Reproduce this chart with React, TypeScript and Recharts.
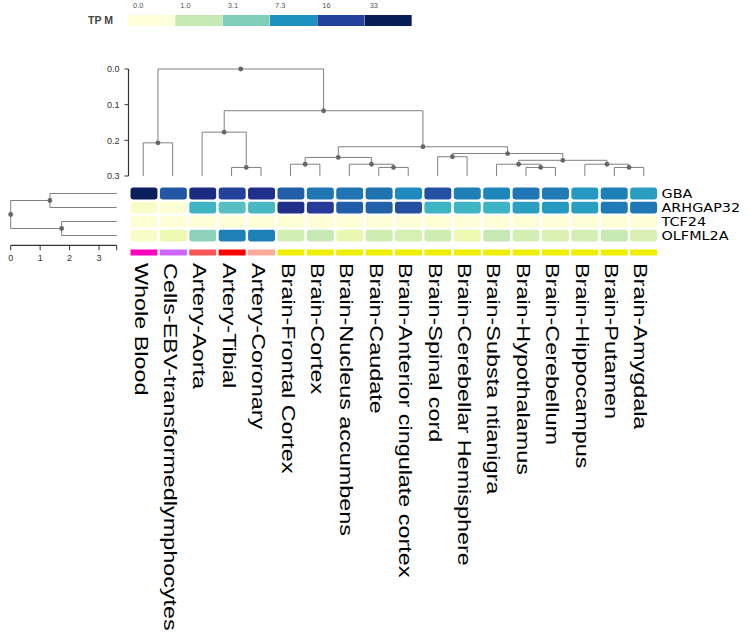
import React from 'react';
import { BarChart, Bar, XAxis, YAxis, Cell, ScatterChart, Scatter } from 'recharts';

// ---- data ----
const TISSUES = [
  'Whole Blood',
  'Cells-EBV-transformedlymphocytes',
  'Artery-Aorta',
  'Artery-Tibial',
  'Artery-Coronary',
  'Brain-Frontal Cortex',
  'Brain-Cortex',
  'Brain-Nucleus accumbens',
  'Brain-Caudate',
  'Brain-Anterior cingulate cortex',
  'Brain-Spinal cord',
  'Brain-Cerebellar Hemisphere',
  'Brain-Substa ntianigra',
  'Brain-Hypothalamus',
  'Brain-Cerebellum',
  'Brain-Hippocampus',
  'Brain-Putamen',
  'Brain-Amygdala',
];

const TISSUE_COLORS = [
  '#ff00bb', '#cc66ff', '#ff5555', '#ff0000', '#ffaa99',
  '#eeee00', '#eeee00', '#eeee00', '#eeee00', '#eeee00', '#eeee00', '#eeee00',
  '#eeee00', '#eeee00', '#eeee00', '#eeee00', '#eeee00', '#eeee00',
];

const GENES = ['GBA', 'ARHGAP32', 'TCF24', 'OLFML2A'];

const GBA_TPM = [32, 13, 23, 16, 20.5, 12, 9.9, 10, 10.2, 7.9, 14, 9, 8.3, 9.8, 9.4, 6.8, 9, 6.5];
const ARHGAP32_TPM = [0.2, 0.05, 5.1, 4.3, 4.8, 21, 17, 12, 11.8, 14, 5.1, 5.1, 5.2, 6.4, 6.8, 6.5, 9.5, 9.6];
const TCF24_TPM = [0.06, 0.04, 0.05, 0.05, 0.05, 0.06, 0.05, 0.05, 0.05, 0.05, 0.06, 0.05, 0.05, 0.05, 0.05, 0.05, 0.05, 0.05];
const OLFML2A_TPM = [0.2, 0.5, 2.7, 9, 9, 0.85, 1.0, 0.55, 0.9, 0.8, 0.9, 0.5, 1.05, 0.85, 0.75, 0.82, 1.0, 0.78];

const LEGEND_VALUES = [0, 1, 3.1, 7.3, 16, 33];
const LEGEND_LABELS = ['0.0', '1.0', '3.1', '7.3', '16', '33'];

// column dendrogram, hclust style: negative = leaf (1-based), positive = earlier merge
const COL_MERGES: [number, number, number][] = [
  [-4, -5, 0.276],
  [-3, 1, 0.177],
  [-1, -2, 0.207],
  [-6, -7, 0.267],
  [-9, -10, 0.276],
  [-8, 5, 0.267],
  [4, 6, 0.248],
  [-11, -12, 0.246],
  [-14, -15, 0.276],
  [-13, 9, 0.267],
  [-17, -18, 0.276],
  [-16, 11, 0.267],
  [10, 12, 0.256],
  [8, 13, 0.237],
  [7, 14, 0.218],
  [2, 15, 0.117],
  [3, 16, 0.0],
];
const COL_TICKS = [0, 0.1, 0.2, 0.3];

const ROW_MERGES: [number, number, number][] = [
  [-1, -2, 1.33],
  [-3, -4, 1.73],
  [1, 2, 0],
];
const ROW_TICKS = [0, 1, 2, 3, 3.6];

// ---- helpers ----
const SCALE_VALUES = [0, 0.5, 1, 3.1, 5, 7.3, 12, 18, 33];
const SCALE_COLORS = ['#ffffd9', '#edf8b1', '#c7e9b4', '#7fcdbb', '#41b6c4', '#1d91c0', '#225ea8', '#253494', '#081d58'];

function hex(c: string) {
  return [1, 3, 5].map((i) => parseInt(c.slice(i, i + 2), 16));
}

function colorFor(v: number) {
  if (v <= SCALE_VALUES[0]) return SCALE_COLORS[0];
  for (let i = 1; i < SCALE_VALUES.length; i++) {
    if (v <= SCALE_VALUES[i]) {
      const t = (v - SCALE_VALUES[i - 1]) / (SCALE_VALUES[i] - SCALE_VALUES[i - 1]);
      const a = hex(SCALE_COLORS[i - 1]);
      const b = hex(SCALE_COLORS[i]);
      const m = a.map((x, k) => Math.round(x + (b[k] - x) * t));
      return `rgb(${m[0]},${m[1]},${m[2]})`;
    }
  }
  return SCALE_COLORS[SCALE_COLORS.length - 1];
}

function layoutDendrogram(merges: [number, number, number][], leafHeight: number) {
  const nodes: { pos: number; h: number }[] = [];
  const links: { pos: number; h: number }[][] = [];
  const at = (id: number) => (id < 0 ? { pos: -id - 0.5, h: leafHeight } : nodes[id - 1]);
  merges.forEach(([a, b, h]) => {
    const A = at(a);
    const B = at(b);
    links.push([{ pos: A.pos, h: A.h }, { pos: A.pos, h }, { pos: B.pos, h }, { pos: B.pos, h: B.h }]);
    nodes.push({ pos: (A.pos + B.pos) / 2, h });
  });
  return { nodes, links };
}

const NoDot = () => <g />;
const NodeDot = (props: any) => <circle cx={props.cx} cy={props.cy} r={2.4} fill="#666" />;

const LINK_STYLE = { stroke: '#808080', strokeWidth: 1 };
const AXIS_FONT = 'Liberation Sans, Arial, sans-serif';

// ---- layout ----
const ROW_H = 14;
const GAP_H = 6;
const STRIP_H = 8;
const HEAT_H = ROW_H * 4 + GAP_H + STRIP_H;

const heatRows = TISSUES.map((tissue) => ({
  tissue,
  strip: STRIP_H,
  gap: GAP_H,
  GBA: ROW_H,
  ARHGAP32: ROW_H,
  TCF24: ROW_H,
  OLFML2A: ROW_H,
}));
const GENE_TPM: Record<string, number[]> = {
  GBA: GBA_TPM,
  ARHGAP32: ARHGAP32_TPM,
  TCF24: TCF24_TPM,
  OLFML2A: OLFML2A_TPM,
};
const geneTickValues = GENES.map((_, i) => HEAT_H - ROW_H * (i + 0.5));

const legendRows = LEGEND_LABELS.map((label, i) => ({ label, value: LEGEND_VALUES[i], level: 1 }));

const colTree = layoutDendrogram(COL_MERGES, 0.3);
const rowTree = layoutDendrogram(ROW_MERGES, 3.6);

const TissueTick = (props: any) => {
  const { x, payload } = props;
  return (
    <text
      transform={`translate(${x - 9.5},263) rotate(90) scale(1.3,1)`}
      fontSize={18}
      fontFamily={AXIS_FONT}
      fill="#000"
      textAnchor="start"
    >
      {payload.value}
    </text>
  );
};

const GeneTick = (props: any) => {
  const { y, payload } = props;
  const idx = geneTickValues.indexOf(payload.value);
  return (
    <text
      transform={`translate(661.5,${y + 4.3}) scale(1.2,1)`}
      fontSize={12}
      fontFamily="DejaVu Sans, sans-serif"
      fill="#000"
    >
      {GENES[idx]}
    </text>
  );
};

const LegendTick = (props: any) => {
  const { x, payload } = props;
  return (
    <text x={x - 284 / 12 + 5} y={7.5} fontSize={7.5} fontFamily={AXIS_FONT} fill="#555">
      {payload.value}
    </text>
  );
};

const TpmTick = (props: any) => (
  <text x={113} y={props.y + 3.5} fontSize={10.5} fontWeight="bold" fontFamily={AXIS_FONT} fill="#444" textAnchor="end">
    TP M
  </text>
);

export default function App() {
  return (
    <div style={{ position: 'absolute', left: 0, top: 0, width: 749, height: 641, background: '#fff' }}>
      {/* heatmap + tissue labels */}
      <div style={{ position: 'absolute', left: 0, top: 0 }}>
        <BarChart
          width={749}
          height={641}
          data={heatRows}
          margin={{ top: 186.5, right: 0, bottom: 0, left: 129.5 }}
          barCategoryGap={0}
          barGap={0}
        >
          <XAxis dataKey="tissue" height={384.5} interval={0} tick={<TissueTick />} tickLine={false} axisLine={false} />
          <YAxis
            orientation="right"
            width={90.5}
            domain={[0, HEAT_H]}
            ticks={geneTickValues}
            interval={0}
            tick={<GeneTick />}
            tickLine={false}
            axisLine={false}
          />
          <Bar dataKey="strip" stackId="h" isAnimationActive={false} stroke="#fff" strokeWidth={2}>
            {TISSUE_COLORS.map((c, i) => (
              <Cell key={`s-${i}`} fill={c} />
            ))}
          </Bar>
          <Bar dataKey="gap" stackId="h" isAnimationActive={false} fill="transparent" />
          {[...GENES].reverse().map((g) => (
            <Bar key={g} dataKey={g} stackId="h" isAnimationActive={false} stroke="#fff" strokeWidth={2} radius={4}>
              {GENE_TPM[g].map((v, i) => (
                <Cell key={`${g}-${i}`} fill={colorFor(v)} />
              ))}
            </Bar>
          ))}
        </BarChart>
      </div>

      {/* colour legend */}
      <div style={{ position: 'absolute', left: 0, top: 0 }}>
        <BarChart
          width={749}
          height={40}
          data={legendRows}
          margin={{ top: 3, right: 337, bottom: 14, left: 0 }}
          barCategoryGap={0}
        >
          <XAxis dataKey="label" orientation="top" height={12} interval={0} tick={<LegendTick />} tickLine={false} axisLine={false} />
          <YAxis width={128} domain={[0, 1]} ticks={[0.5]} tick={<TpmTick />} tickLine={false} axisLine={false} />
          <Bar dataKey="level" isAnimationActive={false}>
            {legendRows.map((r, i) => (
              <Cell key={`l-${i}`} fill={colorFor(r.value)} />
            ))}
          </Bar>
        </BarChart>
      </div>

      {/* column dendrogram */}
      <div style={{ position: 'absolute', left: 0, top: 0 }}>
        <ScatterChart width={749} height={190} margin={{ top: 69, right: 90.5, bottom: 14, left: 0 }}>
          <XAxis type="number" dataKey="x" domain={[0, TISSUES.length]} hide />
          <YAxis
            type="number"
            dataKey="y"
            domain={[0, 0.3]}
            reversed
            ticks={COL_TICKS}
            interval={0}
            width={128.5}
            tickSize={4}
            tickMargin={5}
            tickFormatter={(v: number) => v.toFixed(1)}
            tick={{ fontSize: 9, fill: '#333', fontFamily: AXIS_FONT }}
            axisLine={{ stroke: '#333', strokeWidth: 1.2 }}
            tickLine={{ stroke: '#333' }}
          />
          {colTree.links.map((pts, i) => (
            <Scatter
              key={`cl-${i}`}
              data={pts.map((p) => ({ x: p.pos, y: p.h }))}
              line={LINK_STYLE}
              shape={NoDot}
              isAnimationActive={false}
            />
          ))}
          <Scatter data={colTree.nodes.map((n) => ({ x: n.pos, y: n.h }))} shape={NodeDot} isAnimationActive={false} />
        </ScatterChart>
      </div>

      {/* row dendrogram */}
      <div style={{ position: 'absolute', left: 0, top: 0 }}>
        <ScatterChart width={130} height={270} margin={{ top: 186.5, right: 13.3, bottom: 4.7, left: 10.7 }}>
          <XAxis
            type="number"
            dataKey="x"
            domain={[0, 3.6]}
            ticks={ROW_TICKS}
            interval={0}
            height={20}
            tickSize={5}
            tickMargin={4}
            tickFormatter={(v: number) => (Number.isInteger(v) ? String(v) : '')}
            tick={{ fontSize: 9, fill: '#333', fontFamily: AXIS_FONT }}
            axisLine={{ stroke: '#333', strokeWidth: 1.2 }}
            tickLine={{ stroke: '#333' }}
          />
          <YAxis type="number" dataKey="y" domain={[0, 4.2]} reversed hide />
          {rowTree.links.map((pts, i) => (
            <Scatter
              key={`rl-${i}`}
              data={pts.map((p) => ({ x: p.h, y: p.pos }))}
              line={LINK_STYLE}
              shape={NoDot}
              isAnimationActive={false}
            />
          ))}
          <Scatter data={rowTree.nodes.map((n) => ({ x: n.h, y: n.pos }))} shape={NodeDot} isAnimationActive={false} />
        </ScatterChart>
      </div>
    </div>
  );
}
